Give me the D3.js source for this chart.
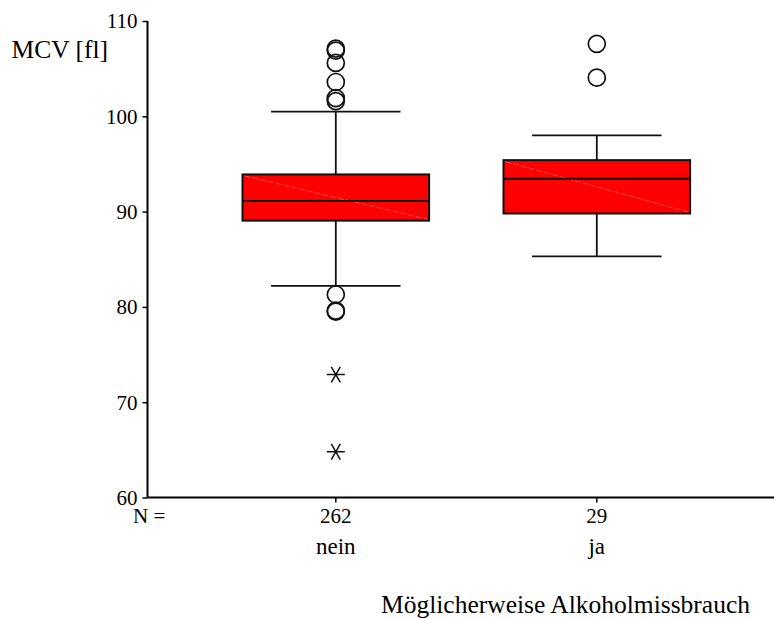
<!DOCTYPE html>
<html>
<head>
<meta charset="utf-8">
<script src="https://cdn.jsdelivr.net/npm/d3@7"></script>
<style>
  html, body { margin: 0; padding: 0; background: #fff; }
  svg text { font-family: "Liberation Serif", "Times New Roman", serif; fill: #000; }
</style>
</head>
<body>
<div id="myPlot"></div>
<script>
// data
const categories = ['nein', 'ja'];
const nValues = [262, 29];
const whiskerLow = [82.2, 85.3];
const q1 = [89.05, 89.8];
const medians = [91.1, 93.45];
const q3 = [93.9, 95.4];
const whiskerHigh = [100.5, 98.0];
const outliersNein = [107.1, 106.9, 105.6, 103.6, 101.9, 101.6, 81.3, 79.6, 79.5];
const outliersJa = [107.6, 104.05];
const extremesNein = [72.9, 64.8];
const extremesJa = [];
const yTicks = [60, 70, 80, 90, 100, 110];

const width = 774, height = 619;

const svg = d3.select('#myPlot')
  .append('svg')
    .attr('width', width)
    .attr('height', height);

const y = d3.scaleLinear()
  .domain([60, 110])
  .range([497.5, 21]);

const x = d3.scaleBand()
  .domain(categories)
  .range([205.3, 727.3])
  .padding(0);

const xMid = (c) => x(c) + x.bandwidth() / 2;
const boxW = x.bandwidth() * 0.715;
const capW = x.bandwidth() * 0.496;

// Y axis
const yAxis = svg.append('g')
  .attr('transform', 'translate(147.5,0)')
  .call(d3.axisLeft(y).tickValues(yTicks).tickSize(5).tickPadding(5));
yAxis.select('.domain').attr('d', 'M0,' + y(110) + 'V' + y(60)).attr('stroke', '#000').attr('stroke-width', 2);
yAxis.selectAll('.tick line').attr('stroke', '#000').attr('stroke-width', 1.5);
yAxis.selectAll('.tick text')
  .style('font-size', '21px')
  .attr('dy', '0.33em');

// X axis
const xAxis = svg.append('g')
  .attr('transform', 'translate(0,' + y(60) + ')')
  .call(d3.axisBottom(x).tickSize(5).tickFormat((d, i) => nValues[i]).tickPadding(4));
xAxis.select('.domain').attr('d', 'M147.5,0H774').attr('stroke', '#000').attr('stroke-width', 2);
xAxis.selectAll('.tick line').attr('stroke', '#000').attr('stroke-width', 1.5);
xAxis.selectAll('.tick text')
  .style('font-size', '21px')
  .attr('y', 0)
  .attr('dy', '25.5px');

// category names under the N row
svg.selectAll('text.cat')
  .data(categories)
  .enter()
  .append('text')
    .attr('class', 'cat')
    .attr('x', (d) => xMid(d))
    .attr('y', 553.5)
    .attr('text-anchor', 'middle')
    .style('font-size', '23px')
    .text((d) => d);

svg.append('text')
  .attr('x', 133)
  .attr('y', 523)
  .style('font-size', '21px')
  .text('N =');

// axis titles
svg.append('text')
  .attr('x', 11.5)
  .attr('y', 58.3)
  .style('font-size', '25.5px')
  .text('MCV [fl]');

svg.append('text')
  .attr('x', 750)
  .attr('y', 613)
  .attr('text-anchor', 'end')
  .style('font-size', '25.5px')
  .text('Möglicherweise Alkoholmissbrauch');

// boxes
const boxes = categories.map((c, i) => ({
  cat: c, lo: whiskerLow[i], q1: q1[i], med: medians[i], q3: q3[i], hi: whiskerHigh[i]
}));

const g = svg.append('g');

// whiskers
g.selectAll('path.whisk')
  .data(boxes)
  .enter()
  .append('path')
    .attr('d', (d) => {
      const cx = xMid(d.cat);
      return 'M' + cx + ',' + y(d.hi) + 'V' + y(d.q3) +
             'M' + cx + ',' + y(d.q1) + 'V' + y(d.lo) +
             'M' + (cx - capW / 2) + ',' + y(d.hi) + 'H' + (cx + capW / 2) +
             'M' + (cx - capW / 2) + ',' + y(d.lo) + 'H' + (cx + capW / 2);
    })
    .attr('stroke', '#111')
    .attr('stroke-width', 1.8)
    .attr('fill', 'none');

g.selectAll('rect.box')
  .data(boxes)
  .enter()
  .append('rect')
    .attr('x', (d) => xMid(d.cat) - boxW / 2)
    .attr('y', (d) => y(d.q3))
    .attr('width', boxW)
    .attr('height', (d) => y(d.q1) - y(d.q3))
    .attr('fill', '#ff0000')
    .attr('stroke', '#111')
    .attr('stroke-width', 2);

// faint diagonal inside the box
g.selectAll('line.diag')
  .data(boxes)
  .enter()
  .append('line')
    .attr('x1', (d) => xMid(d.cat) - boxW / 2 + 2)
    .attr('y1', (d) => y(d.q3) + 1.5)
    .attr('x2', (d) => xMid(d.cat) + boxW / 2 - 2)
    .attr('y2', (d) => y(d.q1) - 1.5)
    .attr('stroke', '#ff6a6a')
    .attr('stroke-width', 0.7)
    .attr('stroke-dasharray', '6,2');

g.selectAll('line.med')
  .data(boxes)
  .enter()
  .append('line')
    .attr('x1', (d) => xMid(d.cat) - boxW / 2)
    .attr('x2', (d) => xMid(d.cat) + boxW / 2)
    .attr('y1', (d) => y(d.med))
    .attr('y2', (d) => y(d.med))
    .attr('stroke', '#111')
    .attr('stroke-width', 2);

// outliers (circles)
const outlierPts = []
  .concat(outliersNein.map((v) => ({ cat: 'nein', v: v })))
  .concat(outliersJa.map((v) => ({ cat: 'ja', v: v })));

g.selectAll('circle.out')
  .data(outlierPts)
  .enter()
  .append('circle')
    .attr('cx', (d) => xMid(d.cat))
    .attr('cy', (d) => y(d.v))
    .attr('r', 8.5)
    .attr('fill', 'none')
    .attr('stroke', '#111')
    .attr('stroke-width', 1.7);

// extremes (asterisks)
const extremePts = []
  .concat(extremesNein.map((v) => ({ cat: 'nein', v: v })))
  .concat(extremesJa.map((v) => ({ cat: 'ja', v: v })));

const starR = 9;
g.selectAll('path.ext')
  .data(extremePts)
  .enter()
  .append('path')
    .attr('d', (d) => {
      const cx = xMid(d.cat), cy = y(d.v);
      let p = '';
      [0, 60, 120].forEach((a) => {
        const r = a * Math.PI / 180;
        const dx = Math.cos(r) * starR, dy = Math.sin(r) * starR;
        p += 'M' + (cx - dx) + ',' + (cy - dy) + 'L' + (cx + dx) + ',' + (cy + dy);
      });
      return p;
    })
    .attr('stroke', '#111')
    .attr('stroke-width', 1.5)
    .attr('fill', 'none');
</script>
</body>
</html>
